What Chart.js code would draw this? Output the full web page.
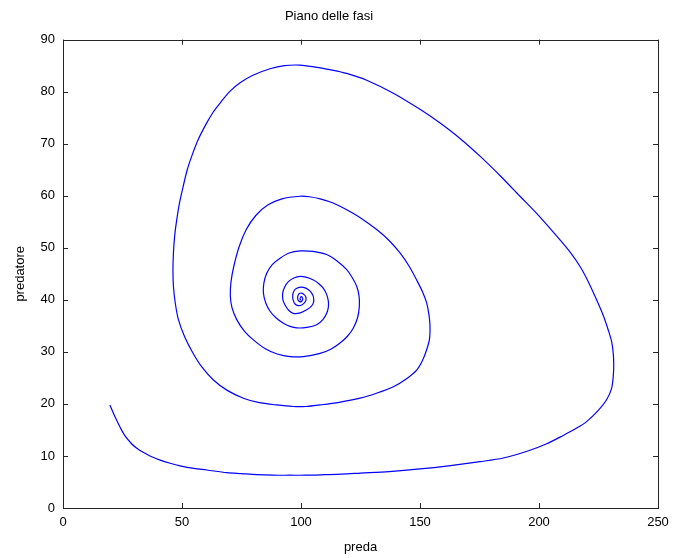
<!DOCTYPE html>
<html>
<head>
<meta charset="utf-8">
<script src="https://cdn.jsdelivr.net/npm/chart.js@4/dist/chart.umd.min.js"></script>
<style>
  html, body { margin: 0; padding: 0; background: #fff; }
  #wrap { width: 673px; height: 558px; }
</style>
</head>
<body>
<div id="wrap"><canvas id="c" width="673" height="558"></canvas></div>
<script>
// traiettoria nel piano delle fasi (preda, predatore)
const preda = [
  19.7, 21, 22.5, 24, 26, 28.9, 31, 33.7, 37, 40.8,
  45, 49.2, 55, 60.4, 68.8, 75, 81.4, 88, 95.4, 102,
  110, 117, 125, 137, 150, 162, 175.2, 185, 195, 203,
  210, 216, 220, 225, 228.4, 230.5, 231.2, 231.4, 231.2, 230.5,
  229.1, 227, 224.2, 221, 217.5, 213, 206, 199, 192, 184,
  175.2, 166.8, 158, 150, 138.8, 127.6, 119.2, 113.6, 106, 99.6,
  93, 87, 80, 74.4, 70, 66, 63, 60.4, 57, 54.4,
  52.2, 50.5, 48.9, 47.8, 46.9, 46.4, 46.2, 46.4, 47.2, 48.5,
  51.2, 54.7, 58.5, 63.2, 69, 75.8, 82, 89.8, 96.7, 102,
  108, 116, 124.8, 132, 138.8, 144.5, 148.6, 151, 152.8, 154,
  154.2, 153.8, 152.8, 151, 148.6, 145.5, 141.6, 137, 131.8, 125.5,
  119.2, 113.5, 108, 103.5, 99.6, 92, 86, 81, 77, 74,
  71.8, 70.6, 70.3, 71, 73, 76.2, 80, 85, 90, 95.4,
  101, 108, 112.5, 116.4, 119.5, 122, 123.8, 124.5, 124.4, 123.4,
  121.5, 119.2, 115, 110.8, 105, 99.6, 95, 91.2, 88, 85.6,
  84.4, 84.2, 85.2, 87, 89.6, 92.6, 95.4, 98.2, 102.5, 106.6,
  109.2, 110.8, 111.5, 111.5, 110.8, 109.4, 107.5, 105.2, 102.4, 99.6,
  97, 94.7, 93.2, 92.3, 92.4, 93.3, 94.8, 96.8, 99.7, 102.4,
  104.2, 105.2, 105.3, 104.5, 103, 101, 99.2, 97.5, 96.7, 96.5,
  96.8, 97.5, 98.8, 100.3, 101.4, 102.1, 102, 101.3, 100.3, 99.3,
  98.7, 98.6, 98.8, 99.3, 99.9, 100.4, 100.7, 100.6, 100.2, 99.8,
  99.6, 99.8, 100
];
const predatore = [
  19.8, 18.4, 16.9, 15.5, 13.9, 12.3, 11.5, 10.7, 9.9, 9.2,
  8.6, 8.1, 7.6, 7.3, 6.8, 6.6, 6.4, 6.3, 6.3, 6.3,
  6.4, 6.5, 6.7, 7, 7.5, 8.1, 8.9, 9.6, 10.9, 12.3,
  13.9, 15.4, 16.6, 18.8, 20.8, 23, 25.3, 27.5, 29.7, 32,
  34.2, 37, 40, 43.2, 46.2, 49.2, 53, 56.6, 59.9, 63.7,
  67.6, 71, 74.1, 76.6, 79.7, 82.2, 83.5, 84.1, 84.7, 85.1,
  85, 84.4, 83.2, 81.7, 80, 77.8, 76, 74, 71, 68,
  65, 61.8, 58.5, 55.4, 52.2, 49, 45.8, 42.6, 39.3, 36.2,
  32.8, 29.7, 27, 24.6, 22.6, 21.1, 20.3, 19.8, 19.5, 19.5,
  19.8, 20.3, 21.1, 22.1, 23.3, 24.9, 26.5, 28.3, 30.4, 32.5,
  34.9, 37, 39.4, 41.6, 43.8, 46.4, 49, 51.4, 53.5, 55.6,
  57.3, 58.6, 59.4, 59.8, 59.9, 59.4, 58.2, 56.2, 53.5, 50.2,
  46.5, 43.5, 40.8, 38.5, 36.2, 34, 32.3, 30.6, 29.6, 29.1,
  29.1, 29.7, 30.5, 31.7, 33, 34.6, 36.6, 38.7, 40.7, 42.6,
  44.3, 45.8, 47.5, 48.7, 49.3, 49.4, 49, 48, 46.8, 45.1,
  43.2, 41.3, 39.4, 37.8, 36.5, 35.5, 34.9, 34.6, 34.7, 35.2,
  36.2, 37.4, 38.6, 39.7, 41, 42.2, 43.1, 43.8, 44.3, 44.5,
  44.2, 43.5, 42.5, 41.3, 40, 39, 38, 37.4, 37.5, 38.1,
  38.7, 39.4, 40.4, 41.3, 42, 42.4, 42.4, 42, 41.3, 40.6,
  39.8, 39.2, 38.9, 39, 39.4, 40, 40.6, 41, 41.3, 41.2,
  40.8, 40.4, 39.9, 39.7, 39.6, 39.8, 40.1, 40.4, 40.6, 40.5,
  40.2, 40, 40
];
const xTicks = [0, 50, 100, 150, 200, 250];
const yTicks = [0, 10, 20, 30, 40, 50, 60, 70, 80, 90];

const FONT = "'Liberation Sans', Arial, sans-serif";
const AXIS = '#262626';

// riquadro e tacche interne stile MATLAB
const boxTicks = {
  id: 'boxTicks',
  afterDraw(chart) {
    const { ctx, chartArea: a, scales } = chart;
    const len = 5;
    ctx.save();
    ctx.strokeStyle = AXIS;
    ctx.lineWidth = 1;
    ctx.strokeRect(Math.round(a.left) + 0.5, Math.round(a.top) + 0.5,
      Math.round(a.right - a.left), Math.round(a.bottom - a.top));
    ctx.beginPath();
    scales.x.ticks.forEach(t => {
      const px = Math.round(scales.x.getPixelForValue(t.value)) + 0.5;
      ctx.moveTo(px, a.bottom); ctx.lineTo(px, a.bottom - len);
      ctx.moveTo(px, a.top); ctx.lineTo(px, a.top + len);
    });
    scales.y.ticks.forEach(t => {
      const py = Math.round(scales.y.getPixelForValue(t.value)) + 0.5;
      ctx.moveTo(a.left, py); ctx.lineTo(a.left + len, py);
      ctx.moveTo(a.right, py); ctx.lineTo(a.right - len, py);
    });
    ctx.stroke();
    ctx.restore();
  }
};

new Chart(document.getElementById('c').getContext('2d'), {
  type: 'scatter',
  data: {
    datasets: [{
      label: 'traiettoria',
      data: preda.map((x, i) => ({ x, y: predatore[i] })),
      showLine: true,
      borderColor: '#0000ff',
      borderWidth: 1.2,
      pointRadius: 0,
      tension: 0.3,
      fill: false
    }]
  },
  options: {
    responsive: false,
    animation: false,
    layout: { padding: { left: 0, right: 15, top: 0, bottom: 0 } },
    plugins: {
      legend: { display: false },
      tooltip: { enabled: false },
      title: {
        display: true,
        text: 'Piano delle fasi',
        color: '#000',
        font: { family: FONT, size: 13, weight: 'normal' },
        padding: { top: 9, bottom: 15 }
      }
    },
    scales: {
      x: {
        type: 'linear',
        min: 0, max: 250,
        afterBuildTicks: s => { s.ticks = xTicks.map(v => ({ value: v })); },
        afterFit: s => { s.height = 50; s.paddingLeft = 0; s.paddingRight = 0; },
        grid: { display: false, drawTicks: false },
        border: { display: false },
        ticks: { color: '#000', padding: 7, font: { family: FONT, size: 13 } },
        title: {
          display: true, text: 'preda', color: '#000',
          font: { family: FONT, size: 13 }, padding: { top: 0, bottom: 3 }
        }
      },
      y: {
        type: 'linear',
        min: 0, max: 90,
        afterBuildTicks: s => { s.ticks = yTicks.map(v => ({ value: v })); },
        afterFit: s => { s.width = 63; },
        grid: { display: false, drawTicks: false },
        border: { display: false },
        ticks: { color: '#000', padding: 8, font: { family: FONT, size: 13 } },
        title: {
          display: true, text: 'predatore', color: '#000',
          font: { family: FONT, size: 13 }, padding: { top: 13, bottom: 0 }
        }
      }
    }
  },
  plugins: [boxTicks]
});
</script>
</body>
</html>
